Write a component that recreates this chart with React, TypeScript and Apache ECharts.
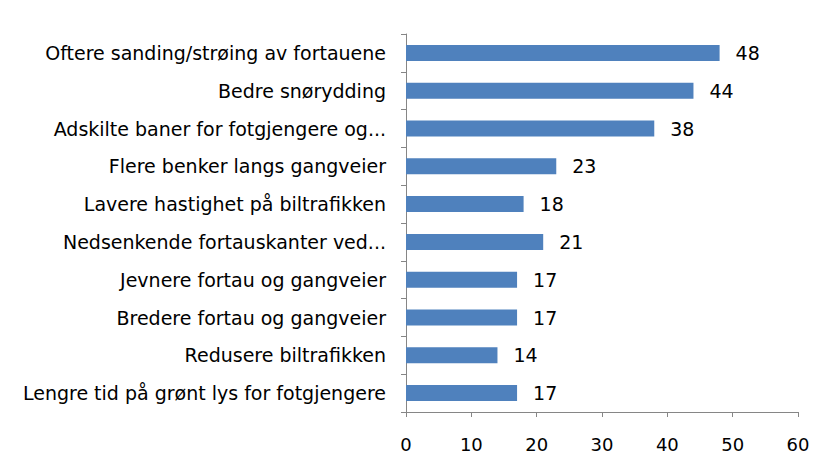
import React, { useEffect, useRef } from "react";
import * as echarts from "echarts";

const categories = [
  "Oftere sanding/strøing av fortauene",
  "Bedre snørydding",
  "Adskilte baner for fotgjengere og...",
  "Flere benker langs gangveier",
  "Lavere hastighet på biltrafikken",
  "Nedsenkende fortauskanter ved...",
  "Jevnere fortau og gangveier",
  "Bredere fortau og gangveier",
  "Redusere biltrafikken",
  "Lengre tid på grønt lys for fotgjengere",
];
const values = [48, 44, 38, 23, 18, 21, 17, 17, 14, 17];

export default function App() {
  const ref = useRef<HTMLDivElement>(null);
  useEffect(() => {
    const chart = echarts.init(ref.current!, null, { renderer: "svg" });
    const font = "'DejaVu Sans', sans-serif";
    chart.setOption({
      animation: false,
      backgroundColor: "#fff",
      grid: { left: 398, right: 24, top: 26, bottom: 50, containLabel: false },
      xAxis: {
        type: "value",
        min: 0,
        max: 60,
        interval: 10,
        splitLine: { show: false },
        axisLine: { show: true, lineStyle: { color: "#868686", width: 1 } },
        axisTick: { show: true, length: 5, lineStyle: { color: "#868686" } },
        axisLabel: { fontSize: 18, color: "#000", margin: 23, fontFamily: font },
      },
      yAxis: {
        type: "category",
        data: categories,
        inverse: true,
        axisLine: { show: true, lineStyle: { color: "#868686", width: 1 } },
        axisTick: { show: true, length: 5, alignWithLabel: false, lineStyle: { color: "#868686" } },
        axisLabel: { fontSize: 19, color: "#000", margin: 20, fontFamily: font },
      },
      series: [
        {
          type: "bar",
          data: values,
          barWidth: 16,
          itemStyle: { color: "#4f81bd" },
          label: {
            show: true,
            position: "right",
            distance: 16,
            fontSize: 19,
            color: "#000",
            fontFamily: font,
          },
        },
      ],
    });
    return () => chart.dispose();
  }, []);
  return <div ref={ref} style={{ width: 814, height: 454 }} />;
}
